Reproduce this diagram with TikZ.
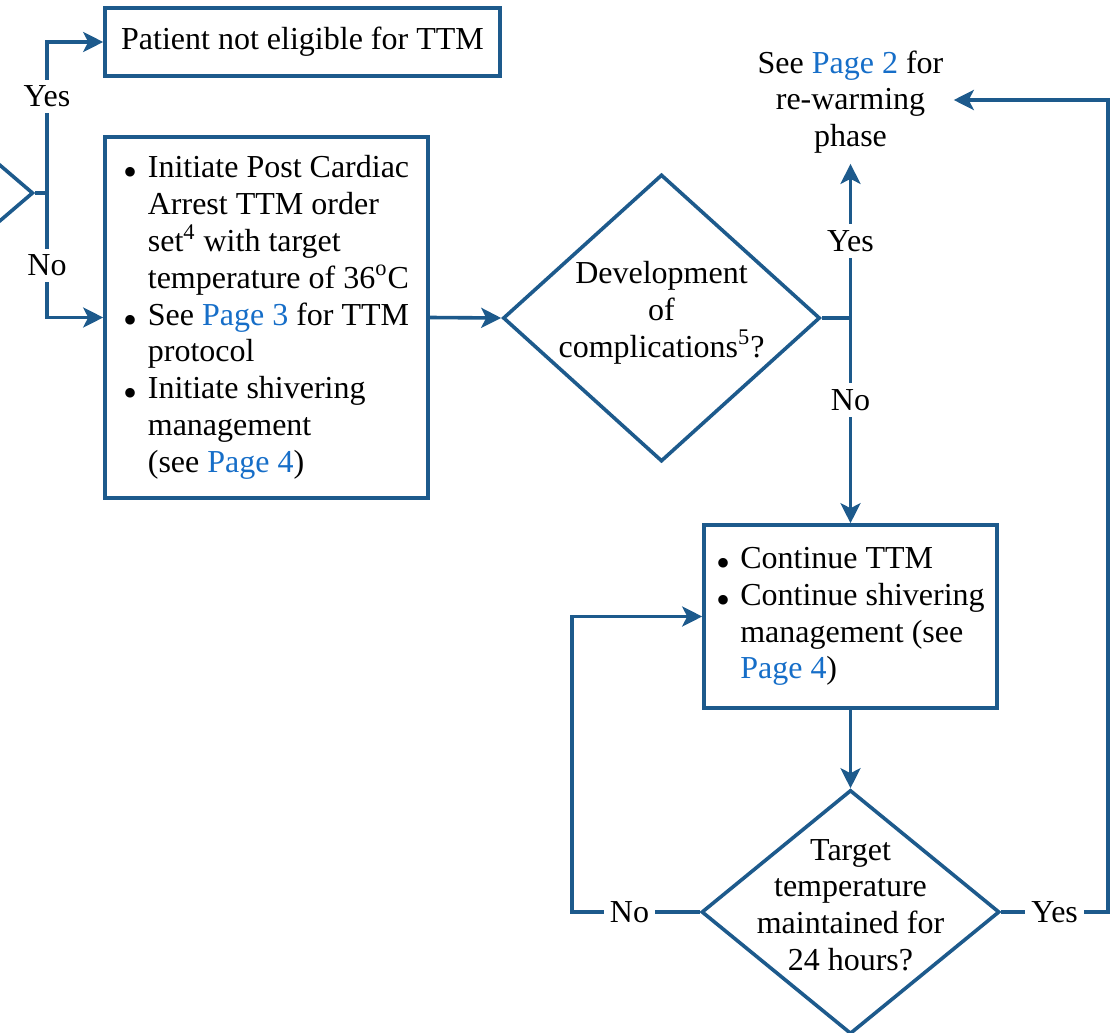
\documentclass[tikz,border=0pt]{standalone}
\usepackage{fontspec}
\setmainfont{Liberation Serif}
\usetikzlibrary{arrows.meta,positioning,shapes.geometric}
\definecolor{flow}{RGB}{29,90,140}
\definecolor{link}{RGB}{22,110,200}
\newcommand{\bul}{\makebox[12pt][l]{\raisebox{-4pt}[0pt][0pt]{\scalebox{1.25}{\textbullet}}}}
\newcommand{\ind}{\hspace*{12pt}}

\begin{document}
\begin{tikzpicture}[x=0.5pt,y=-0.5pt,>={Stealth[length=10pt,width=10pt,inset=2.5pt]},
  every node/.style={font=\fontsize{16}{18.4}\selectfont},
  box/.style={draw=flow,line width=1.8pt,align=left,inner sep=0pt},
  decide/.style={draw=flow,line width=1.8pt,diamond,inner sep=0pt},
  lbl/.style={fill=white,inner sep=3pt},
  conn/.style={draw=flow,line width=1.8pt}]
\useasboundingbox (0,0) rectangle (1115,1033);
\node[box,align=center,minimum width=197.5pt,minimum height=34pt] (noelig) at (302.5,42) {Patient not eligible for TTM};
\node[box,minimum width=161.5pt,minimum height=180.5pt] (init) at (266.5,317.5) {\bul Initiate Post Cardiac\\ \ind Arrest TTM order\\ \ind set\textsuperscript{4} with target\\ \ind temperature of 36\textsuperscript{o}C\\ \bul See \textcolor{link}{Page 3} for TTM\\ \ind protocol\\ \bul Initiate shivering\\ \ind management\\ \ind (see \textcolor{link}{Page 4})};
\node[decide,minimum width=160pt,minimum height=137pt,anchor=east] (elig) at (35,193) {};
\node[decide,minimum width=158.5pt,minimum height=143.5pt,label={[align=center,yshift=2.5pt]center:Development\\of\\complications\textsuperscript{5}?}] (dev) at (661.5,318) {};
\node[align=center,inner sep=5pt] (rewarm) at (850.5,102) {See \textcolor{link}{Page 2} for\\re-warming\\phase};
\node[box,minimum width=146.5pt,minimum height=91.5pt] (cont) at (850.5,616.5) {\bul Continue TTM\\ \bul Continue shivering\\ \ind management (see\\ \ind \textcolor{link}{Page 4})};
\node[decide,minimum width=149pt,minimum height=122pt,label={[align=center,yshift=3.5pt]center:Target\\temperature\\maintained for\\24 hours?}] (tt) at (850.5,912) {};
\coordinate (ej) at (47,193);
\coordinate (devj) at (cont.north |- dev.east);
\coordinate (rcorner) at (1108,100);
\coordinate (lcorner) at (572,912);
\draw[conn] (elig.east) -- (ej);
\draw[conn,->] (ej) -- node[lbl,pos=0.64]{Yes} (ej |- noelig.west) -- (noelig.west);
\draw[conn,->] (ej) -- node[lbl,pos=0.58]{No} (ej |- init.west) -- (init.west);
\draw[conn,->] (init.east) -- (dev.west);
\draw[conn] (dev.east) -- (devj);
\draw[conn,->] (devj) -- node[lbl]{Yes} (rewarm.south);
\draw[conn,->] (devj) -- node[lbl,pos=0.4]{No} (cont.north);
\draw[conn,->] (cont.south) -- (tt.north);
\draw[conn,->] (tt.east) -- node[lbl]{Yes} (rcorner |- tt.east) -- (rcorner) -- (rewarm.east |- rcorner);
\draw[conn,->] (tt.west) -- node[lbl,pos=0.55]{No} (lcorner) |- (cont.west);
\end{tikzpicture}
\end{document}
